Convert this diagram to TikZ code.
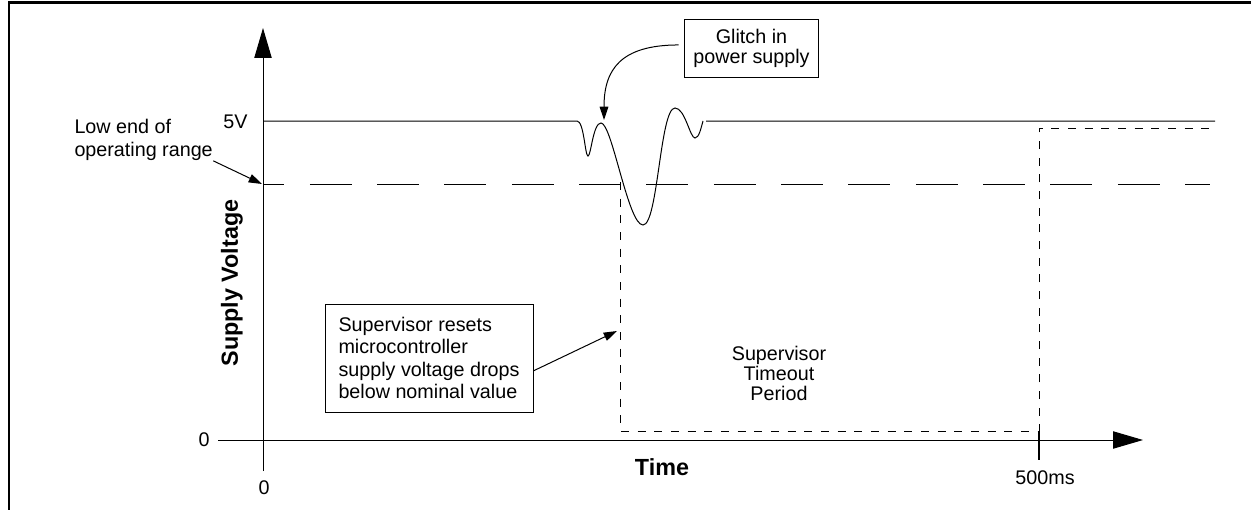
\documentclass[tikz,border=0pt]{standalone}
\usepackage{fontspec}
\setmainfont{Liberation Sans}
\usetikzlibrary{arrows.meta}

\tikzset{every picture/.style={line width=0.75pt}}
\tikzset{
	axis arrow/.style={-{Triangle[length=22.5pt,width=13pt]}},
	note arrow/.style={-{Triangle[length=10pt,width=6.5pt]}},
	note box/.style={draw, inner sep=0pt, align=left, font=\fontsize{14.8}{16.7}\selectfont},
	plain text/.style={inner sep=0pt, font=\fontsize{14.8}{16.7}\selectfont},
	axis label/.style={inner sep=0pt, font=\bfseries\fontsize{17.5}{20}\selectfont},
	reset line/.style={dash pattern=on 6pt off 6.5pt},
	low line/.style={dash pattern=on 31.5pt off 19pt, dash phase=15.4pt}}

\begin{document}
\begin{tikzpicture}[x=0.75pt,y=0.75pt,yscale=-1,xscale=1]
	\path[use as bounding box] (0,0) rectangle (1251,510);

	%Frame
	\draw [line width=2.25pt] (8,3) -- (1251,3) ;
	\draw [line width=1.5pt] (9,2) -- (9,510) ;

	%Axes
	\coordinate (ybot) at (263,471);
	\coordinate (ytop) at (263,28);
	\coordinate (xleft) at (218,440);
	\coordinate (xright) at (1143,440);
	\draw [axis arrow] (ybot) -- (ytop) ;
	\draw [axis arrow] (xleft) -- (xright) ;
	%Tick at 500ms
	\draw [line width=1.2pt] (1039,432) -- (1039,460) ;

	%Low end of operating range
	\draw [low line] (263,184) -- (1210,184) ;

	%Supply with glitch
	\draw (263,121) -- (577,121)
		.. controls (584,121) and (585,156) .. (588,156)
		.. controls (591,156) and (593,123) .. (601,123)
		.. controls (612,123) and (628,225) .. (643,225)
		.. controls (658,225) and (660,108) .. (675,108)
		.. controls (685,108) and (690,138) .. (695,138)
		.. controls (699,138) and (701,128) .. (703,121)
		(706,121) -- (1215,121) ;

	%Supervisor reset output
	\draw [reset line] (620,182) -- (620,431) -- (1039,431) -- (1039,128) -- (1213,128) ;

	% Text Node
	\node [plain text, anchor=east] (fivev) at (248,122) {5V};
	% Text Node
	\node [plain text] (zeroy) at (204,440) {0};
	% Text Node
	\node [plain text] (zerox) at (264,488) {0};
	% Text Node
	\node [plain text] (fivehundred) at (1045,478) {500ms};
	% Text Node
	\node [axis label] (timelbl) at (662,467) {Time};
	% Text Node
	\node [axis label, rotate=90] (voltlbl) at (232,283) {Supply Voltage};
	% Text Node
	\node [plain text, anchor=west, align=left] (lowend) at (74,140) {Low end of\\operating range};
	% Text Node
	\node [plain text, align=center, font=\fontsize{14.8}{15}\selectfont] (timeout) at (779,373) {Supervisor\\Timeout\\Period};
	% Box Node
	\node [note box, minimum width=156pt, minimum height=81pt] (resetbox) at (429,358) {Supervisor resets\\microcontroller\\supply voltage drops\\below nominal value};
	% Box Node
	\node [note box, align=center, minimum width=101pt, minimum height=44pt, font=\fontsize{14.8}{15}\selectfont] (glitchbox) at (751.5,48.5) {Glitch in\\power supply};

	%Annotation arrows
	\coordinate (lowtip) at (262,184);
	\coordinate (resettip) at (617,331);
	\coordinate (glitchtip) at (604,120);
	\draw [note arrow] (lowend.south east) -- (lowtip) ;
	\draw [note arrow] (resetbox.-7) -- (resettip) ;
	\draw [note arrow, shorten <=3.75pt] (glitchbox.177) .. controls (620,45) and (604,70) .. (glitchtip) ;

\end{tikzpicture}
\end{document}
